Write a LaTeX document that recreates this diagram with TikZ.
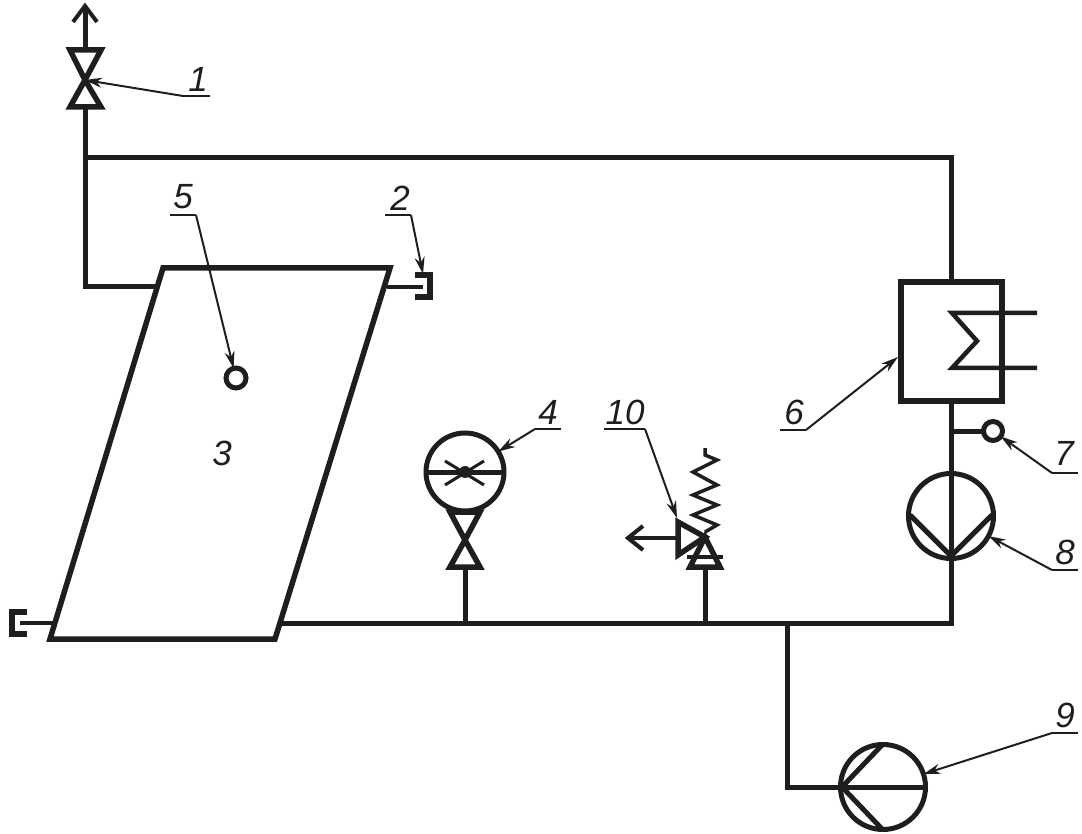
\documentclass[tikz,border=0pt]{standalone}
\usepackage{fontspec}
\setmainfont{Liberation Sans}
\usetikzlibrary{arrows.meta}
\tikzset{
  pipe/.style={line width=5pt,line cap=butt,line join=miter,color=ink},
  thin pipe/.style={line width=4pt,color=ink},
  heavy/.style={line width=5.5pt,line join=miter,color=ink},
  leader/.style={line width=2pt,color=ink,-{Stealth[length=17pt,width=10pt]}},
  under/.style={line width=1.8pt,color=ink},
  num/.style={font=\itshape\fontsize{35}{35}\selectfont,text=ink,inner sep=0pt},
  ring/.style={circle,draw=ink,line width=5pt,inner sep=0pt,outer sep=0pt},
}
\definecolor{ink}{HTML}{1E1E1E}
\begin{document}
\begin{tikzpicture}[x=1pt,y=-1pt]
\useasboundingbox (0,0) rectangle (1082,834);
% --- junction coordinates
\coordinate (tip) at (85,6);
\coordinate (v1top) at (85,50);
\coordinate (v1mid) at (85,80);
\coordinate (v1bot) at (85,107);
\coordinate (tee) at (85,158);
\coordinate (corner) at (951,158);
\coordinate (tankL) at (85,287);
\coordinate (brL) at (787,623);
\coordinate (brR) at (951,623);
\coordinate (g4) at (465,623);
\coordinate (g10) at (705,623);
% --- tank
\draw[heavy] (163,268) -- (390,268) -- (275,639) -- (50,639) -- cycle;
\node[num] (n3) at (222,453) {3};
% --- pipes
\draw[pipe] (v1bot) -- (tee) -- (tankL) -- (155,287);
\draw[pipe] (tee) -- (corner) -- (951,281);
\draw[pipe] (280,623) -- (brR) -- (951,402);
\draw[pipe] (brL) -- (787,787) -- (841,787);
% --- vent arrow and valve 1
\draw[pipe] (v1top) -- (tip);
\draw[line width=4pt,color=ink,line join=miter] (73,22) -- (tip) -- (97,22);
\draw[heavy] (v1mid) -- (70,50) -- (101,50) -- cycle;
\draw[heavy] (v1mid) -- (70,107) -- (101,107) -- cycle;
% --- stubs and caps
\draw[thin pipe] (387,287) -- (423,287);
\draw[heavy] (415,275) -- (430,275) -- (430,297) -- (415,297);
\draw[thin pipe] (53,623) -- (20,623);
\draw[heavy] (27,612) -- (12,612) -- (12,634) -- (27,634);
% --- sensor 5
\node[ring,minimum size=20pt] (s5) at (236,378) {};
% --- gauge 4 with valve
\node[ring,minimum size=78pt] (gauge) at (465,472) {};
\draw[pipe] (gauge.west) -- (gauge.east);
\draw[line width=3pt,color=ink] (445,461) -- (484,485) (445,485) -- (484,461);
\fill[ink] (gauge.center) circle (6pt);
\draw[heavy] (465,540) -- (450,512) -- (480,512) -- cycle;
\draw[heavy] (465,540) -- (450,567) -- (480,567) -- cycle;
\draw[pipe] (465,567) -- (g4);
% --- relief valve 10
\draw[heavy] (705,537) -- (678,522) -- (678,555) -- cycle;
\draw[heavy] (705,537) -- (690,567) -- (720,567) -- cycle;
\draw[thin pipe] (687,557) -- (723,557);
\draw[pipe] (705,567) -- (g10);
\draw[thin pipe] (678,538) -- (630,538);
\draw[line width=4pt,color=ink,line join=miter] (643,526) -- (628,538) -- (643,550);
\draw[line width=3.5pt,color=ink,line join=miter] (705,532) -- (717,525) -- (693,515) -- (717,505) -- (693,495) -- (717,485) -- (693,472) -- (717,460) -- (705,455) -- (705,448);
% --- heat exchanger 6
\node[draw=ink,line width=5.5pt,minimum width=101pt,minimum height=119pt,inner sep=0pt,outer sep=0pt] (hx) at (951.5,341.5) {};
\draw[line width=4.5pt,color=ink,line join=miter] (1037,313) -- (952,313) -- (977,341) -- (952,368) -- (1037,368);
% --- sensor 7
\node[ring,minimum size=19pt] (s7) at (993,431) {};
\draw[pipe] (951,431) -- (s7.west);
% --- pump 8
\node[ring,minimum size=85pt] (p8) at (951,516) {};
\draw[line width=5pt,color=ink,line join=round] (910,515) -- (951,556) -- (992,515);
% --- pump 9
\node[ring,minimum size=85pt] (p9) at (883,787) {};
\draw[pipe] (p9.west) -- (p9.east);
\draw[line width=5pt,color=ink,line join=round] (883,744) -- (842,787) -- (883,830);
% --- labels
\node[num] (n1) at (198,79) {1};
\coordinate (u1a) at (210,96); \coordinate (u1b) at (183,96);
\draw[under] (u1a) -- (u1b);
\draw[leader] (u1b) -- (v1mid);
\node[num] (n2) at (400,198) {2};
\coordinate (u2a) at (385,215); \coordinate (u2b) at (411,215);
\draw[under] (u2a) -- (u2b);
\draw[leader] (u2b) -- (423,274);
\node[num] (n5) at (183,197) {5};
\coordinate (u5a) at (170,215); \coordinate (u5b) at (196,215);
\draw[under] (u5a) -- (u5b);
\draw[leader] (u5b) -- (s5);
\node[num] (n4) at (548,412) {4};
\coordinate (u4a) at (561,429); \coordinate (u4b) at (535,429);
\draw[under] (u4a) -- (u4b);
\draw[leader] (u4b) -- (gauge);
\node[num] (n10) at (625,412) {10};
\coordinate (u10a) at (604,429); \coordinate (u10b) at (645,429);
\draw[under] (u10a) -- (u10b);
\draw[leader] (u10b) -- (677,518);
\node[num] (n6) at (794,412) {6};
\coordinate (u6a) at (780,430); \coordinate (u6b) at (806,430);
\draw[under] (u6a) -- (u6b);
\draw[leader] (u6b) -- (898,357);
\node[num] (n7) at (1064,453) {7};
\coordinate (u7a) at (1078,473); \coordinate (u7b) at (1052,473);
\draw[under] (u7a) -- (u7b);
\draw[leader] (u7b) -- (s7);
\node[num] (n8) at (1065,552) {8};
\coordinate (u8a) at (1078,570); \coordinate (u8b) at (1052,570);
\draw[under] (u8a) -- (u8b);
\draw[leader] (u8b) -- (p8);
\node[num] (n9) at (1065,715) {9};
\coordinate (u9a) at (1078,733); \coordinate (u9b) at (1052,733);
\draw[under] (u9a) -- (u9b);
\draw[leader] (u9b) -- (p9);
\end{tikzpicture}
\end{document}
